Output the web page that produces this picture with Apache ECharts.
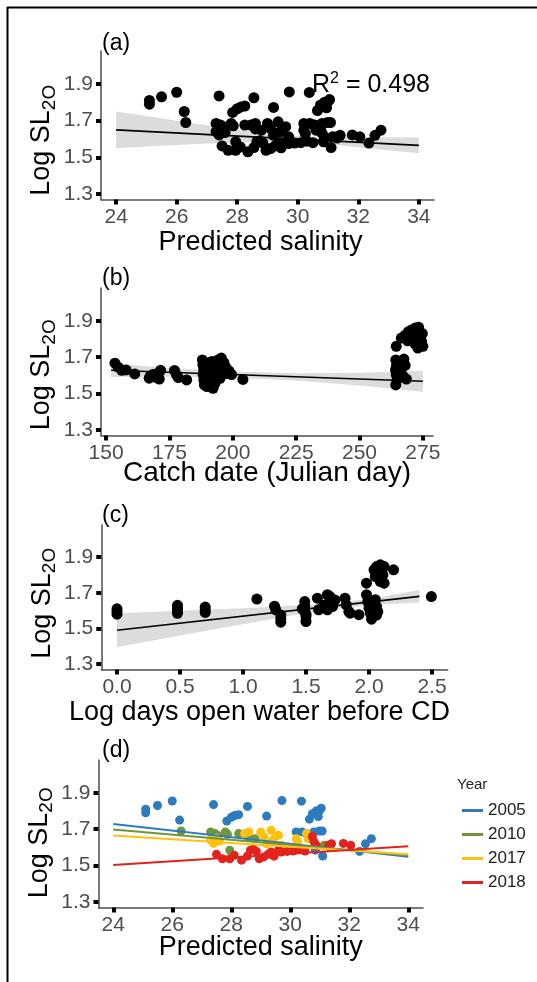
<!DOCTYPE html>
<html><head><meta charset="utf-8">
<script src="https://cdn.jsdelivr.net/npm/echarts@6/dist/echarts.min.js"></script>
<style>html,body{margin:0;padding:0;background:#fff}#c{width:537px;height:982px}</style>
</head><body><div id="c"></div><script>
// ---------- data ----------
// Panel (d) / (a): predicted salinity vs Log SL2O, by year
const sal2005 = [[25.1,1.81],[25.1,1.79],[25.5,1.83],[26.0,1.855],[26.25,1.75],[27.4,1.835],[27.85,1.745],[28.0,1.765],[28.12,1.775],[28.25,1.78],[28.55,1.825],[29.2,1.772],[29.72,1.857],[30.38,1.854],[30.65,1.755],[30.75,1.785],[30.88,1.8],[31.0,1.805],[31.05,1.815],[30.95,1.77],[30.2,1.685],[30.4,1.685],[30.55,1.675],[30.8,1.685],[30.98,1.69],[31.08,1.69],[30.85,1.585],[31.1,1.553],[32.35,1.578],[32.55,1.62],[32.75,1.648]];
const sal2010 = [[26.3,1.69],[27.3,1.685],[27.45,1.676],[27.55,1.665],[27.8,1.685],[27.87,1.672],[27.95,1.585],[28.25,1.676],[28.6,1.655],[28.8,1.648],[31.15,1.612],[31.3,1.605]];
const sal2017 = [[27.3,1.64],[27.4,1.622],[27.5,1.65],[27.6,1.635],[28.45,1.676],[28.6,1.685],[29.0,1.685],[29.1,1.658],[29.2,1.62],[29.35,1.694],[29.4,1.638],[29.5,1.66],[29.6,1.667],[29.7,1.612],[30.2,1.648],[30.25,1.63],[30.55,1.676],[30.6,1.648]];
const sal2018 = [[27.5,1.562],[27.7,1.538],[27.95,1.538],[28.1,1.557],[28.35,1.53],[28.55,1.553],[28.65,1.585],[28.75,1.59],[28.85,1.578],[28.95,1.538],[29.1,1.548],[29.25,1.562],[29.35,1.575],[29.45,1.552],[29.6,1.585],[29.7,1.575],[29.9,1.578],[30.1,1.58],[30.3,1.588],[30.5,1.58],[30.75,1.66],[30.8,1.632],[30.88,1.612],[31.3,1.612],[31.4,1.62],[31.8,1.622],[32.05,1.612]];
// Panel (d) fitted lines per year (endpoints)
const fit2005 = [[24,1.729],[34,1.548]];
const fit2010 = [[24,1.698],[34,1.557]];
const fit2017 = [[24,1.665],[34,1.562]];
const fit2018 = [[24,1.504],[34,1.606]];
const years = ['2005','2010','2017','2018'];

// Panel (a) fit and confidence band
const fitA = [[24,1.65],[34,1.565]];
const bandAx = [24,25,26,27,28,29,30,31,32,33,34];
const bandAlo = [1.55,1.559,1.567,1.575,1.58,1.584,1.581,1.571,1.555,1.539,1.522];
const bandAhi = [1.75,1.725,1.699,1.675,1.652,1.632,1.617,1.611,1.609,1.609,1.608];

// Panel (b): catch date vs Log SL2O
const dateSL = [[153.5,1.667],[154.8,1.645],[156.2,1.628],[157.9,1.63],[161.3,1.608],
 [167.0,1.585],[167.5,1.597],[168.5,1.605],[170.5,1.612],[171.5,1.628],[169.5,1.59],[171.0,1.58],
 [177.0,1.627],[177.8,1.603],[178.5,1.588],[181.8,1.575],
 [188.0,1.685],[188.2,1.658],[188.5,1.63],[188.3,1.603],[188.6,1.575],[188.8,1.548],[189.5,1.64],[189.8,1.539],[190.3,1.566],[190.5,1.67],[191.0,1.594],[191.0,1.62],[191.3,1.648],[191.7,1.676],[191.5,1.555],[192.2,1.529],[192.5,1.6],[193.0,1.557],[193.0,1.64],[193.6,1.612],[194.2,1.685],[194.4,1.66],[194.8,1.63],[195.0,1.584],[195.5,1.695],[196.0,1.62],[196.5,1.67],[197.2,1.645],[197.5,1.61],[198.5,1.625],[199.5,1.605],
 [204.0,1.578],
 [264.5,1.76],[264.3,1.685],[264.6,1.655],[264.2,1.63],[264.5,1.605],[264.8,1.575],[264.3,1.548],[266.0,1.668],[266.5,1.64],[267.0,1.6],[267.5,1.69],[268.0,1.655],[268.5,1.58],[266.5,1.805],[268.0,1.82],[269.3,1.84],[270.5,1.85],[272.0,1.86],[273.3,1.865],[274.0,1.815],[274.5,1.786],[275.0,1.76],[272.6,1.795],[271.3,1.81],[270.0,1.832],[273.5,1.84],[271.8,1.775],[274.8,1.83],[269.0,1.79],[273.0,1.75]];
const fitB = [[152,1.628],[275,1.568]];
const bandBx = [152,175,200,225,250,275];
const bandBlo = [1.591,1.594,1.589,1.572,1.545,1.51];
const bandBhi = [1.665,1.64,1.621,1.612,1.615,1.626];

// Panel (c): log days open water before CD vs Log SL2O
const daysSL = [[0,1.61],[0,1.595],[0,1.58],
 [0.48,1.63],[0.48,1.615],[0.48,1.6],[0.48,1.585],
 [0.7,1.62],[0.7,1.605],[0.7,1.59],
 [1.11,1.665],
 [1.25,1.625],[1.26,1.605],[1.3,1.576],[1.3,1.555],[1.3,1.535],
 [1.47,1.61],[1.49,1.651],[1.49,1.623],[1.49,1.595],[1.5,1.567],[1.5,1.539],[1.5,1.58],
 [1.59,1.67],[1.6,1.605],[1.64,1.63],[1.67,1.689],[1.69,1.679],[1.68,1.642],[1.71,1.623],[1.67,1.605],[1.73,1.66],
 [1.81,1.67],[1.82,1.632],[1.84,1.595],[1.85,1.586],[1.92,1.577],
 [1.98,1.754],[1.98,1.689],[1.99,1.651],[2.0,1.614],[2.01,1.586],[2.02,1.552],
 [2.04,1.829],[2.06,1.847],[2.09,1.857],[2.12,1.847],[2.08,1.81],[2.1,1.791],[2.12,1.754],[2.05,1.791],[2.09,1.763],[2.1,1.83],[2.11,1.8],
 [2.05,1.661],[2.06,1.623],[2.07,1.595],[2.04,1.64],[2.06,1.575],
 [2.195,1.829],[2.495,1.679]];
const fitC = [[0,1.49],[2.4,1.68]];
const bandCx = [0,0.5,1.0,1.5,2.0,2.4];
const bandClo = [1.395,1.46,1.524,1.587,1.632,1.645];
const bandChi = [1.585,1.6,1.614,1.631,1.664,1.715];

// tick labels
const yTicks = [1.3,1.5,1.7,1.9];
const salTicks = [24,26,28,30,32,34];
const dateTicks = [150,175,200,225,250,275];
const daysTicks = [0,0.5,1.0,1.5,2.0,2.5];
const r2Text = '0.498';

// ---------- styling ----------
const FONT = 'Liberation Sans';
const yearColors = ['#2D7BBE','#6F953D','#FFC10E','#E2231D'];
const grids = [
  {left:101, top:51, width:333, height:148.5},
  {left:101, top:288, width:332, height:147.5},
  {left:101.25, top:525, width:346.5, height:144.5},
  {left:98.5, top:760, width:324.5, height:147.5}
];
const xNames = ['Predicted salinity','Catch date (Julian day)','Log days open water before CD','Predicted salinity'];
const xRanges = [[23.5,34.5],[148,279],[-0.125,2.625],[23.5,34.5]];
const xTickSets = [salTicks, dateTicks, daysTicks, salTicks];
const xFmt = [v=>String(v), v=>String(v), v=>v.toFixed(1), v=>String(v)];
const xNameGap = [30, 24, 30, 27];
const xNameSize = [27, 28, 27, 27];
const xNamePad = [[0,14,0,0],[0,0,0,0],[0,30,0,0],[0,0,0,0]];
const yNamePad = [[0,30,0,0],[0,26,0,0],[0,12,0,0],[0,18,0,0]];

function band(xs, lo, hi){ return xs.map((x,i)=>[x, lo[i], hi[i]]); }

const xAxes = grids.map((g,i)=>({
  type:'value', gridIndex:i, min:xRanges[i][0], max:xRanges[i][1],
  splitLine:{show:false},
  axisLine:{show:true, onZero:false, lineStyle:{color:'#4d4d4d', width:1.5}},
  axisTick:{show:true, length:5, customValues:xTickSets[i], lineStyle:{color:'#000', width:4}},
  axisLabel:{customValues:xTickSets[i], formatter:xFmt[i], color:'#4d4d4d', fontSize:21, fontFamily:FONT, margin:7},
  name:xNames[i], nameLocation:'middle', nameGap:xNameGap[i], nameMoveOverlap:false,
  nameTextStyle:{color:'#000', fontSize:xNameSize[i], fontFamily:FONT, padding:xNamePad[i]}
}));
const yAxes = grids.map((g,i)=>({
  type:'value', gridIndex:i, min:1.27, max:2.08,
  splitLine:{show:false},
  axisLine:{show:true, onZero:false, lineStyle:{color:'#4d4d4d', width:1.5}},
  axisTick:{show:true, length:5, customValues:yTicks, lineStyle:{color:'#000', width:4}},
  axisLabel:{customValues:yTicks, formatter:v=>v.toFixed(1), color:'#4d4d4d', fontSize:21, fontFamily:FONT, margin:8},
  name:'{m|Log SL}{s|2O}', nameLocation:'middle', nameRotate:90, nameGap:42, nameMoveOverlap:false,
  nameTextStyle:{color:'#000', fontSize:27, fontFamily:FONT, padding:yNamePad[i],
    rich:{m:{fontSize:27, lineHeight:34, fontFamily:FONT, color:'#000'},
          s:{fontSize:19, lineHeight:19, verticalAlign:'bottom', fontFamily:FONT, color:'#000'}}}
}));

function bandSeries(idx, data){
  return {type:'custom', xAxisIndex:idx, yAxisIndex:idx, silent:true, z:1,
    data:data, encode:{x:0, y:[1,2]},
    renderItem:function(params, api){
      if(params.dataIndex!==0) return null;
      const pts=[];
      for(let k=0;k<data.length;k++) pts.push(api.coord([data[k][0], data[k][2]]));
      for(let k=data.length-1;k>=0;k--) pts.push(api.coord([data[k][0], data[k][1]]));
      return {type:'polygon', shape:{points:pts}, style:{fill:'#DCDCDC'}};
    }};
}
function pts(idx, data, color, size, name){
  return {type:'scatter', name:name, xAxisIndex:idx, yAxisIndex:idx, data:data, symbolSize:size,
    itemStyle:{color:color, opacity:1}, z:2, silent:true};
}
function fitLine(idx, data, color, width, name){
  return {type:'line', name:name, xAxisIndex:idx, yAxisIndex:idx, data:data, showSymbol:false, symbol:'none',
    lineStyle:{color:color, width:width}, itemStyle:{color:color}, z:3, silent:true};
}

const allSal = sal2005.concat(sal2010, sal2017, sal2018);
const yearPts = [sal2005, sal2010, sal2017, sal2018];
const yearFits = [fit2005, fit2010, fit2017, fit2018];

const series = [
  bandSeries(0, band(bandAx, bandAlo, bandAhi)), pts(0, allSal, '#000', 11, 'a'), fitLine(0, fitA, '#000', 1.6, 'fa'),
  bandSeries(1, band(bandBx, bandBlo, bandBhi)), pts(1, dateSL, '#000', 11, 'b'), fitLine(1, fitB, '#000', 1.6, 'fb'),
  bandSeries(2, band(bandCx, bandClo, bandChi)), pts(2, daysSL, '#000', 11, 'c'), fitLine(2, fitC, '#000', 1.6, 'fc')
];
years.forEach((y,i)=>series.push(pts(3, yearPts[i], yearColors[i], 9, 'p'+y)));
years.forEach((y,i)=>series.push(fitLine(3, yearFits[i], yearColors[i], 2, y)));

const tags = ['(a)','(b)','(c)','(d)'];
const tagTop = [32, 267, 504, 739];
const graphic = [
  {type:'line', shape:{x1:7, y1:7.5, x2:537, y2:7.5}, style:{stroke:'#000', lineWidth:2}},
  {type:'line', shape:{x1:7.5, y1:7, x2:7.5, y2:982}, style:{stroke:'#000', lineWidth:2}},
  {type:'text', left:312, top:71, style:{text:'{m|R}{s|2}{m| = '+r2Text+'}',
    rich:{m:{fontSize:25, lineHeight:28, fontFamily:FONT, fill:'#000'}, s:{fontSize:16, lineHeight:16, verticalAlign:'top', fontFamily:FONT, fill:'#000'}}}},
  {type:'text', left:457, top:777, style:{text:'Year', fontSize:15, fontFamily:FONT, fill:'#222'}}
];
tags.forEach((t,i)=>graphic.push({type:'text', left:102, top:tagTop[i], style:{text:t, fontSize:23, fontFamily:FONT, fill:'#000'}}));

const chart = echarts.init(document.getElementById('c'), null, {renderer:'canvas'});
chart.setOption({
  animation:false,
  backgroundColor:'#fff',
  grid:grids,
  xAxis:xAxes,
  yAxis:yAxes,
  legend:{data:years, orient:'vertical', left:457, top:797, itemWidth:21, itemHeight:3, itemGap:7,
    icon:'rect', textStyle:{fontSize:17, fontFamily:FONT, color:'#222'}, selectedMode:false},
  series:series,
  graphic:graphic
});
</script></body></html>
